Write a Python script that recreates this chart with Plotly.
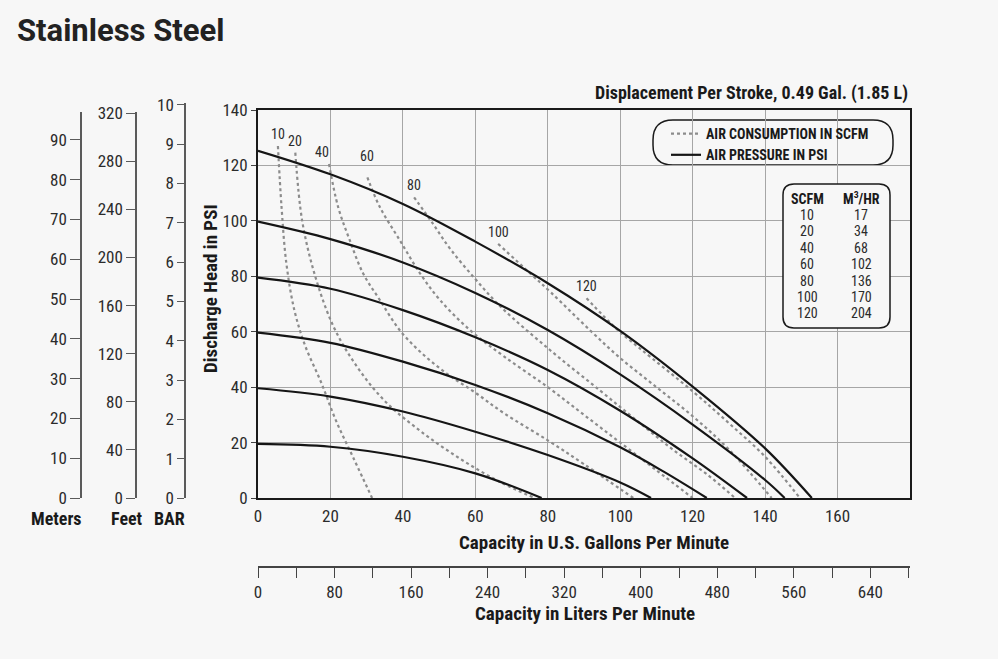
import plotly.graph_objects as go

# ---------------- data ----------------
# Air pressure curves (solid): capacity in US GPM vs discharge head in PSI
p125_gpm = [0, 20, 40, 60, 80, 100, 120, 140, 152.9]
p125_psi = [125.3, 116.8, 106.1, 92.5, 77.5, 60.3, 40.2, 17.9, 0]
p100_gpm = [0, 20, 40, 60, 80, 100, 120, 140, 145.4]
p100_psi = [99.7, 93.4, 85.0, 74.0, 60.6, 44.6, 26.5, 6.5, 0]
p80_gpm = [0, 20, 40, 60, 80, 100, 120, 135.0]
p80_psi = [79.5, 75.5, 67.8, 58.0, 46.2, 31.5, 14.3, 0]
p60_gpm = [0, 20, 40, 60, 80, 100, 112, 123.9]
p60_psi = [59.7, 56.0, 49.2, 40.8, 30.6, 18.3, 9.5, 0]
p40_gpm = [0, 20, 40, 60, 80, 100, 108.5]
p40_psi = [39.6, 36.6, 31.2, 23.9, 15.5, 5.6, 0]
p20_gpm = [0, 20, 40, 60, 78.3]
p20_psi = [19.5, 18.5, 14.9, 8.9, 0]

# Air consumption curves (dashed), SCFM
a10_gpm = [5.5, 6.5, 7.8, 10.0, 13.0, 17.5, 21.5, 26.5, 31.5]
a10_psi = [127.0, 105.0, 85.0, 68.0, 55.0, 41.5, 28.0, 14.0, 0]
a20_gpm = [10.3, 12.2, 15.8, 20.8, 27.0, 35.0, 45.0, 56.0, 66.8, 76.4]
a20_psi = [124.6, 100.0, 80.0, 62.0, 48.0, 35.0, 24.0, 14.0, 5.8, 0]
a40_gpm = [19.6, 22.1, 25.3, 29.0, 33.6, 39.1, 45.0, 52.0, 60.0, 68.0, 80.0, 90.0, 103.6]
a40_psi = [120.5, 105.1, 93.1, 81.1, 71.5, 60.6, 52.5, 45.0, 38.0, 30.5, 20.8, 12.2, 0]
a60_gpm = [30.2, 33.6, 39.1, 44.7, 50.2, 58.5, 68.0, 80.0, 90.0, 100, 110, 120]
a60_psi = [115.7, 105.1, 93.1, 81.1, 71.5, 60.6, 51.0, 40.0, 30.0, 20.0, 10.0, 0]
a80_gpm = [43.1, 48.0, 53.0, 60.0, 67.0, 80.6, 94.4, 105.0, 115.0, 124.0, 131.7]
a80_psi = [108.5, 99.5, 90.0, 79.0, 69.0, 53.4, 38.8, 27.5, 17.0, 8.5, 0]
a100_gpm = [66.3, 75.1, 81.0, 91.6, 100, 110, 120, 130, 141.8]
a100_psi = [91.7, 81.1, 74.0, 60.6, 50.5, 40.0, 29.5, 17.5, 0]
a120_gpm = [90.7, 99.0, 105.4, 120, 130, 140, 149.6]
a120_psi = [72.1, 61.0, 54.0, 38.5, 27.0, 14.9, 0]

pressure_curves = [(p125_gpm, p125_psi), (p100_gpm, p100_psi), (p80_gpm, p80_psi),
                   (p60_gpm, p60_psi), (p40_gpm, p40_psi), (p20_gpm, p20_psi)]
air_scfm = [10, 20, 40, 60, 80, 100, 120]
air_curves = [(a10_gpm, a10_psi), (a20_gpm, a20_psi), (a40_gpm, a40_psi), (a60_gpm, a60_psi),
              (a80_gpm, a80_psi), (a100_gpm, a100_psi), (a120_gpm, a120_psi)]

# conversion table
table_scfm = ["10", "20", "40", "60", "80", "100", "120"]
table_m3hr = ["17", "34", "68", "102", "136", "170", "204"]

# axis ranges / ticks
gpm_max = 180
psi_max = 140
liters_ticks = list(range(0, 681, 40))
liters_labels = [str(v) if v % 80 == 0 else "" for v in liters_ticks]
GAL_TO_L = 3.78541

# ---------------- layout helpers ----------------
W, H = 998, 659
ML, MR, MT, MB = 20, 88, 60, 40
PW = W - ML - MR
PH = H - MT - MB


def px(X):
    return (X - ML) / PW


def py(Y):
    return (H - MB - Y) / PH


FONT = "Liberation Sans Narrow, Arial Narrow, Roboto Condensed, DejaVu Sans Condensed, Liberation Sans, sans-serif"
TXT = "#2b2b2b"
DARK = "#1a1a1a"
BG = "#f7f7f7"
CLEAR = "rgba(0,0,0,0)"

fig = go.Figure()

# dashed air consumption curves
for i, (g, p) in enumerate(air_curves):
    fig.add_trace(go.Scatter(
        x=g, y=p, mode="lines",
        line=dict(color="#8c8c8c", width=2.2, dash="dot", shape="spline", smoothing=1.0),
        name="AIR CONSUMPTION IN SCFM", legendgroup="air", legendrank=1,
        showlegend=(i == 0), hoverinfo="skip"))

# solid pressure curves
for i, (g, p) in enumerate(pressure_curves):
    fig.add_trace(go.Scatter(
        x=g, y=p, mode="lines",
        line=dict(color="#151515", width=2.2, shape="spline", smoothing=1.0),
        name="AIR PRESSURE IN PSI", legendgroup="psi", legendrank=2,
        showlegend=(i == 0), hoverinfo="skip"))

# empty traces so the unit axes (meters, feet, bar, liters) are drawn
for xa, ya in [("x3", "y2"), ("x4", "y3"), ("x5", "y4"), ("x2", "y5")]:
    fig.add_trace(go.Scatter(x=[None], y=[None], xaxis=xa, yaxis=ya, mode="lines",
                             showlegend=False, hoverinfo="skip"))

# curve labels at the start of each air curve
label_off = {40: (-7, 12), 60: (0, 21)}
for s, (g, p) in zip(air_scfm, air_curves):
    dx, dy = label_off.get(s, (0, 12))
    fig.add_annotation(x=g[0], y=p[0], text=str(s), showarrow=False, xshift=dx, yshift=dy,
                       font=dict(family=FONT, size=14, color=TXT))

xdom = [px(258), 1.0]
ydom = [py(498), py(110)]
GRID = "#a6a6a6"
TICKF = dict(family=FONT, size=17, color=TXT)
HIDDEN = dict(visible=False, range=[0, 1], showgrid=False, zeroline=False)


def unit_axis(anchor, top_y, rng, dtick, ticklen):
    return dict(anchor=anchor, side="left", domain=[py(498), py(top_y)],
                range=rng, dtick=dtick, tick0=0, showgrid=False, zeroline=False,
                showline=True, linecolor="#5a5a5a", linewidth=1.5,
                ticks="outside", ticklen=ticklen, tickcolor="#5a5a5a", tickwidth=1.2,
                tickfont=TICKF)


fig.update_layout(
    width=W, height=H,
    margin=dict(l=ML, r=MR, t=MT, b=MB, pad=0, autoexpand=False),
    paper_bgcolor=BG, plot_bgcolor=CLEAR,
    font=dict(family=FONT, size=16, color=TXT),
    xaxis=dict(domain=xdom, anchor="y", range=[0, gpm_max],
               tickvals=list(range(0, 161, 20)),
               showgrid=True, gridcolor=GRID, gridwidth=1.2,
               showline=True, linecolor=DARK, linewidth=2, mirror=True,
               ticks="", ticklabelstandoff=2, zeroline=False, tickfont=TICKF),
    yaxis=dict(domain=ydom, anchor="x", range=[0, psi_max], dtick=20, tick0=0,
               showgrid=True, gridcolor=GRID, gridwidth=1.2,
               showline=True, linecolor=DARK, linewidth=2, mirror=True,
               ticks="outside", ticklen=5, tickcolor="#444", zeroline=False,
               tickfont=TICKF),
    # meters / feet / bar scales, each anchored to a hidden sliver x axis
    xaxis3=dict(domain=[px(82), px(83)], anchor="y2", **HIDDEN),
    xaxis4=dict(domain=[px(137), px(138)], anchor="y3", **HIDDEN),
    xaxis5=dict(domain=[px(186), px(187)], anchor="y4", **HIDDEN),
    yaxis2=unit_axis("x3", 112, [0, 97.0], 10, 10),
    yaxis3=unit_axis("x4", 112, [0, 321.0], 40, 9),
    yaxis4=unit_axis("x5", 103.3, [0, 10.04], 1, 7),
    # liters scale anchored to a hidden sliver y axis
    yaxis5=dict(domain=[py(566), py(565)], anchor="x2", **HIDDEN),
    xaxis2=dict(anchor="y5", side="bottom", domain=xdom,
                range=[0, gpm_max * GAL_TO_L], tickvals=liters_ticks, ticktext=liters_labels,
                showgrid=False, zeroline=False,
                showline=True, linecolor="#444", linewidth=1.5,
                ticks="outside", ticklen=10, tickcolor="#444", tickwidth=1.2,
                tickfont=TICKF),
    showlegend=True,
    legend=dict(x=px(666), y=py(118), xanchor="left", yanchor="top",
                bgcolor=CLEAR, borderwidth=0,
                font=dict(family=FONT, size=14, color=DARK, weight="bold"),
                tracegroupgap=0, itemwidth=30, traceorder="normal"),
)


def rrect(x0, y0, x1, y1, r):
    pts = [
        f"M{px(x0 + r)},{py(y0)}", f"L{px(x1 - r)},{py(y0)}",
        f"Q{px(x1)},{py(y0)} {px(x1)},{py(y0 + r)}", f"L{px(x1)},{py(y1 - r)}",
        f"Q{px(x1)},{py(y1)} {px(x1 - r)},{py(y1)}", f"L{px(x0 + r)},{py(y1)}",
        f"Q{px(x0)},{py(y1)} {px(x0)},{py(y1 - r)}", f"L{px(x0)},{py(y0 + r)}",
        f"Q{px(x0)},{py(y0)} {px(x0 + r)},{py(y0)}", "Z"]
    return " ".join(pts)


fig.add_shape(type="path", xref="paper", yref="paper", path=rrect(653, 120, 893, 165, 20),
              line=dict(color=DARK, width=1.5), fillcolor=BG, layer="below")
fig.add_shape(type="path", xref="paper", yref="paper", path=rrect(783, 184, 890, 328, 11),
              line=dict(color=DARK, width=1.5), fillcolor=BG, layer="above")


def note(X, Y, text, size=16, anchor="center", angle=0, family=FONT, color=TXT):
    fig.add_annotation(x=px(X), y=py(Y), xref="paper", yref="paper", text=text,
                       showarrow=False, xanchor=anchor, yanchor="middle", textangle=angle,
                       font=dict(family=family, size=size, color=color))


# table text
note(807, 199, "<b>SCFM</b>", size=14, color=DARK)
note(861, 198, "<b>M<sup>3</sup>/HR</b>", size=14, color=DARK)
for i, (a, b) in enumerate(zip(table_scfm, table_m3hr)):
    yy = 215 + i * 16.4
    note(807, yy, a, size=14)
    note(861, yy, b, size=14)

# titles
note(15, 30, "<b>Stainless Steel</b>", size=31, anchor="left", family="Roboto, sans-serif", color="#222")
note(910, 93, "<b>Displacement Per Stroke, 0.49 Gal. (1.85 L)</b>", size=18, anchor="right", color=DARK)
note(210, 289, "<b>Discharge Head in PSI</b>", size=19, angle=-90, color=DARK)
note(56, 518, "<b>Meters</b>", size=18, color=DARK)
note(127, 518, "<b>Feet</b>", size=18, color=DARK)
note(169, 518, "<b>BAR</b>", size=18, color=DARK)
note(594, 542, "<b>Capacity in U.S. Gallons Per Minute</b>", size=19, color=DARK)
note(585, 613, "<b>Capacity in Liters Per Minute</b>", size=19, color=DARK)

fig.write_html("out.html", config={"displayModeBar": False},
               post_script="document.body.style.margin='0px';")
